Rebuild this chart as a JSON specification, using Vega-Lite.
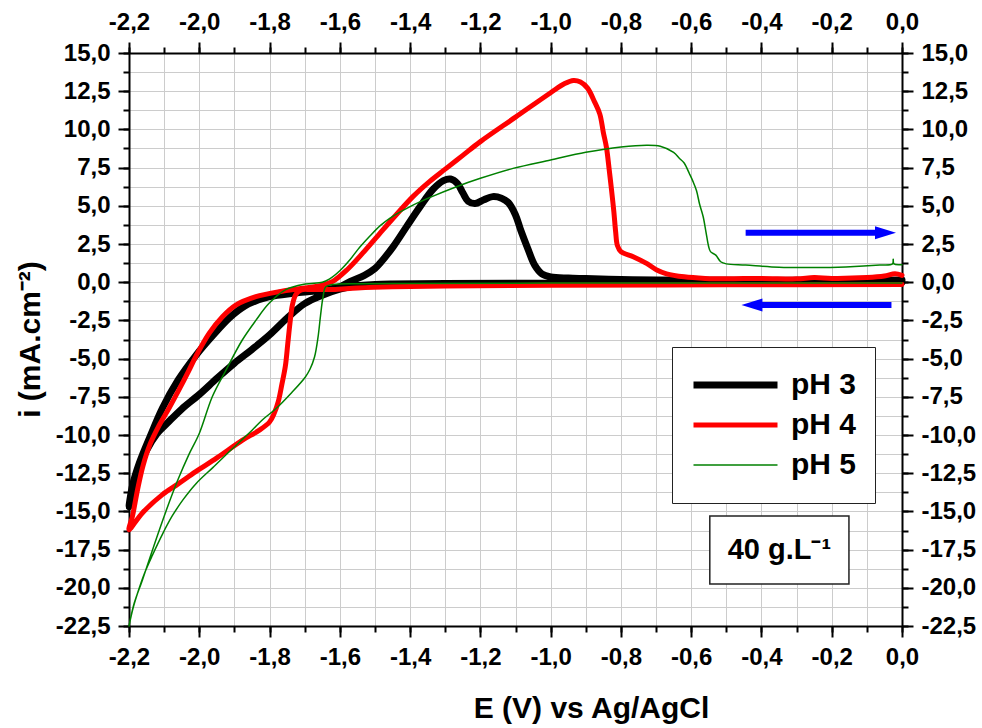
{
  "$schema": "https://vega.github.io/schema/vega-lite/v6.json",
  "width": 773,
  "height": 573,
  "autosize": {"type": "none"},
  "padding": {"left": 129, "top": 53, "right": 80, "bottom": 102},
  "background": "white",
  "config": {
    "view": {"stroke": null},
    "font": "Liberation Sans",
    "axis": {
      "labelFont": "Liberation Sans", "labelFontWeight": "bold", "labelFontSize": 24, "labelColor": "black",
      "labelPadding": 8, "labelFlush": false, "labelOverlap": false,
      "domainColor": "black", "domainWidth": 2, "tickColor": "black", "tickWidth": 2,
      "titleFont": "Liberation Sans", "titleFontWeight": "bold", "titleFontSize": 30, "titleColor": "black",
      "gridColor": "#cccccc", "gridWidth": 1, "gridOpacity": 1
    }
  },
  "resolve": {"axis": {"x": "independent", "y": "independent"}},
  "datasets": {
    "cv": [
      {"s":"pH 3","k":0,"E":0.0,"i":0.0},{"s":"pH 3","k":1,"E":-0.5,"i":-0.03},{"s":"pH 3","k":2,"E":-1.0,"i":-0.05},{"s":"pH 3","k":3,"E":-1.3,"i":-0.08},{"s":"pH 3","k":4,"E":-1.45,"i":-0.12},{"s":"pH 3","k":5,"E":-1.5,"i":-0.15},{"s":"pH 3","k":6,"E":-1.55,"i":-0.22},{"s":"pH 3","k":7,"E":-1.6,"i":-0.45},{"s":"pH 3","k":8,"E":-1.65,"i":-0.85},{"s":"pH 3","k":9,"E":-1.7,"i":-1.4},{"s":"pH 3","k":10,"E":-1.75,"i":-2.35},{"s":"pH 3","k":11,"E":-1.8,"i":-3.45},{"s":"pH 3","k":12,"E":-1.85,"i":-4.4},{"s":"pH 3","k":13,"E":-1.9,"i":-5.3},{"s":"pH 3","k":14,"E":-1.95,"i":-6.3},{"s":"pH 3","k":15,"E":-2.0,"i":-7.35},{"s":"pH 3","k":16,"E":-2.05,"i":-8.3},{"s":"pH 3","k":17,"E":-2.09,"i":-9.2},{"s":"pH 3","k":18,"E":-2.12,"i":-9.9},{"s":"pH 3","k":19,"E":-2.15,"i":-11.0},{"s":"pH 3","k":20,"E":-2.175,"i":-12.4},{"s":"pH 3","k":21,"E":-2.19,"i":-13.6},{"s":"pH 3","k":22,"E":-2.2,"i":-14.7},{"s":"pH 3","k":23,"E":-2.19,"i":-13.3},{"s":"pH 3","k":24,"E":-2.17,"i":-11.8},{"s":"pH 3","k":25,"E":-2.14,"i":-10.1},{"s":"pH 3","k":26,"E":-2.105,"i":-8.25},{"s":"pH 3","k":27,"E":-2.06,"i":-6.4},{"s":"pH 3","k":28,"E":-2.01,"i":-4.8},{"s":"pH 3","k":29,"E":-1.96,"i":-3.45},{"s":"pH 3","k":30,"E":-1.915,"i":-2.35},{"s":"pH 3","k":31,"E":-1.87,"i":-1.55},{"s":"pH 3","k":32,"E":-1.8,"i":-0.95},{"s":"pH 3","k":33,"E":-1.73,"i":-0.72},{"s":"pH 3","k":34,"E":-1.66,"i":-0.55},{"s":"pH 3","k":35,"E":-1.6,"i":-0.3},{"s":"pH 3","k":36,"E":-1.57,"i":0.05},{"s":"pH 3","k":37,"E":-1.53,"i":0.45},{"s":"pH 3","k":38,"E":-1.5,"i":0.9},{"s":"pH 3","k":39,"E":-1.486,"i":1.23},{"s":"pH 3","k":40,"E":-1.448,"i":2.33},{"s":"pH 3","k":41,"E":-1.41,"i":3.64},{"s":"pH 3","k":42,"E":-1.372,"i":4.93},{"s":"pH 3","k":43,"E":-1.334,"i":6.1},{"s":"pH 3","k":44,"E":-1.305,"i":6.65},{"s":"pH 3","k":45,"E":-1.285,"i":6.75},{"s":"pH 3","k":46,"E":-1.265,"i":6.45},{"s":"pH 3","k":47,"E":-1.25,"i":5.85},{"s":"pH 3","k":48,"E":-1.235,"i":5.3},{"s":"pH 3","k":49,"E":-1.215,"i":5.15},{"s":"pH 3","k":50,"E":-1.19,"i":5.4},{"s":"pH 3","k":51,"E":-1.165,"i":5.6},{"s":"pH 3","k":52,"E":-1.14,"i":5.5},{"s":"pH 3","k":53,"E":-1.12,"i":5.2},{"s":"pH 3","k":54,"E":-1.1,"i":4.4},{"s":"pH 3","k":55,"E":-1.085,"i":3.4},{"s":"pH 3","k":56,"E":-1.065,"i":2.2},{"s":"pH 3","k":57,"E":-1.045,"i":1.1},{"s":"pH 3","k":58,"E":-1.025,"i":0.55},{"s":"pH 3","k":59,"E":-1.0,"i":0.35},{"s":"pH 3","k":60,"E":-0.95,"i":0.27},{"s":"pH 3","k":61,"E":-0.9,"i":0.24},{"s":"pH 3","k":62,"E":-0.8,"i":0.18},{"s":"pH 3","k":63,"E":-0.7,"i":0.15},{"s":"pH 3","k":64,"E":-0.5,"i":0.12},{"s":"pH 3","k":65,"E":-0.3,"i":0.12},{"s":"pH 3","k":66,"E":-0.1,"i":0.12},{"s":"pH 3","k":67,"E":0.0,"i":0.15},
      {"s":"pH 4","k":0,"E":0.0,"i":-0.15},{"s":"pH 4","k":1,"E":-0.5,"i":-0.17},{"s":"pH 4","k":2,"E":-1.0,"i":-0.2},{"s":"pH 4","k":3,"E":-1.3,"i":-0.25},{"s":"pH 4","k":4,"E":-1.45,"i":-0.3},{"s":"pH 4","k":5,"E":-1.55,"i":-0.38},{"s":"pH 4","k":6,"E":-1.62,"i":-0.48},{"s":"pH 4","k":7,"E":-1.68,"i":-0.48},{"s":"pH 4","k":8,"E":-1.71,"i":-0.5},{"s":"pH 4","k":9,"E":-1.725,"i":-0.8},{"s":"pH 4","k":10,"E":-1.735,"i":-1.5},{"s":"pH 4","k":11,"E":-1.742,"i":-2.7},{"s":"pH 4","k":12,"E":-1.748,"i":-4.0},{"s":"pH 4","k":13,"E":-1.755,"i":-5.5},{"s":"pH 4","k":14,"E":-1.765,"i":-6.7},{"s":"pH 4","k":15,"E":-1.775,"i":-7.8},{"s":"pH 4","k":16,"E":-1.787,"i":-8.6},{"s":"pH 4","k":17,"E":-1.8,"i":-9.15},{"s":"pH 4","k":18,"E":-1.83,"i":-9.7},{"s":"pH 4","k":19,"E":-1.878,"i":-10.35},{"s":"pH 4","k":20,"E":-1.95,"i":-11.5},{"s":"pH 4","k":21,"E":-2.01,"i":-12.4},{"s":"pH 4","k":22,"E":-2.06,"i":-13.2},{"s":"pH 4","k":23,"E":-2.105,"i":-13.9},{"s":"pH 4","k":24,"E":-2.162,"i":-15.1},{"s":"pH 4","k":25,"E":-2.2,"i":-16.2},{"s":"pH 4","k":26,"E":-2.19,"i":-15.3},{"s":"pH 4","k":27,"E":-2.175,"i":-13.5},{"s":"pH 4","k":28,"E":-2.16,"i":-12.0},{"s":"pH 4","k":29,"E":-2.14,"i":-10.6},{"s":"pH 4","k":30,"E":-2.115,"i":-9.4},{"s":"pH 4","k":31,"E":-2.085,"i":-8.2},{"s":"pH 4","k":32,"E":-2.058,"i":-7.05},{"s":"pH 4","k":33,"E":-2.03,"i":-5.8},{"s":"pH 4","k":34,"E":-2.01,"i":-4.87},{"s":"pH 4","k":35,"E":-1.972,"i":-3.35},{"s":"pH 4","k":36,"E":-1.934,"i":-2.26},{"s":"pH 4","k":37,"E":-1.896,"i":-1.5},{"s":"pH 4","k":38,"E":-1.839,"i":-0.95},{"s":"pH 4","k":39,"E":-1.773,"i":-0.62},{"s":"pH 4","k":40,"E":-1.7,"i":-0.38},{"s":"pH 4","k":41,"E":-1.65,"i":-0.2},{"s":"pH 4","k":42,"E":-1.62,"i":0.05},{"s":"pH 4","k":43,"E":-1.58,"i":0.8},{"s":"pH 4","k":44,"E":-1.535,"i":1.9},{"s":"pH 4","k":45,"E":-1.486,"i":3.2},{"s":"pH 4","k":46,"E":-1.44,"i":4.4},{"s":"pH 4","k":47,"E":-1.392,"i":5.6},{"s":"pH 4","k":48,"E":-1.344,"i":6.6},{"s":"pH 4","k":49,"E":-1.3,"i":7.4},{"s":"pH 4","k":50,"E":-1.25,"i":8.3},{"s":"pH 4","k":51,"E":-1.2,"i":9.2},{"s":"pH 4","k":52,"E":-1.1,"i":10.8},{"s":"pH 4","k":53,"E":-1.0,"i":12.4},{"s":"pH 4","k":54,"E":-0.96,"i":13.0},{"s":"pH 4","k":55,"E":-0.935,"i":13.2},{"s":"pH 4","k":56,"E":-0.915,"i":13.1},{"s":"pH 4","k":57,"E":-0.895,"i":12.7},{"s":"pH 4","k":58,"E":-0.875,"i":11.8},{"s":"pH 4","k":59,"E":-0.86,"i":11.0},{"s":"pH 4","k":60,"E":-0.85,"i":9.8},{"s":"pH 4","k":61,"E":-0.841,"i":8.8},{"s":"pH 4","k":62,"E":-0.833,"i":7.3},{"s":"pH 4","k":63,"E":-0.827,"i":6.1},{"s":"pH 4","k":64,"E":-0.82,"i":4.6},{"s":"pH 4","k":65,"E":-0.815,"i":3.3},{"s":"pH 4","k":66,"E":-0.81,"i":2.4},{"s":"pH 4","k":67,"E":-0.8,"i":2.0},{"s":"pH 4","k":68,"E":-0.765,"i":1.67},{"s":"pH 4","k":69,"E":-0.727,"i":1.23},{"s":"pH 4","k":70,"E":-0.698,"i":0.8},{"s":"pH 4","k":71,"E":-0.67,"i":0.55},{"s":"pH 4","k":72,"E":-0.62,"i":0.35},{"s":"pH 4","k":73,"E":-0.56,"i":0.25},{"s":"pH 4","k":74,"E":-0.5,"i":0.22},{"s":"pH 4","k":75,"E":-0.4,"i":0.25},{"s":"pH 4","k":76,"E":-0.3,"i":0.22},{"s":"pH 4","k":77,"E":-0.25,"i":0.3},{"s":"pH 4","k":78,"E":-0.2,"i":0.25},{"s":"pH 4","k":79,"E":-0.1,"i":0.3},{"s":"pH 4","k":80,"E":-0.05,"i":0.4},{"s":"pH 4","k":81,"E":-0.02,"i":0.55},{"s":"pH 4","k":82,"E":0.0,"i":0.45},
      {"s":"pH 5","k":0,"E":0.0,"i":-0.05},{"s":"pH 5","k":1,"E":-0.5,"i":-0.05},{"s":"pH 5","k":2,"E":-1.0,"i":-0.06},{"s":"pH 5","k":3,"E":-1.4,"i":-0.08},{"s":"pH 5","k":4,"E":-1.55,"i":-0.1},{"s":"pH 5","k":5,"E":-1.62,"i":-0.15},{"s":"pH 5","k":6,"E":-1.64,"i":-0.3},{"s":"pH 5","k":7,"E":-1.648,"i":-1.0},{"s":"pH 5","k":8,"E":-1.655,"i":-2.2},{"s":"pH 5","k":9,"E":-1.662,"i":-3.6},{"s":"pH 5","k":10,"E":-1.672,"i":-4.9},{"s":"pH 5","k":11,"E":-1.685,"i":-5.7},{"s":"pH 5","k":12,"E":-1.698,"i":-6.2},{"s":"pH 5","k":13,"E":-1.736,"i":-7.2},{"s":"pH 5","k":14,"E":-1.783,"i":-8.3},{"s":"pH 5","k":15,"E":-1.82,"i":-9.0},{"s":"pH 5","k":16,"E":-1.849,"i":-9.67},{"s":"pH 5","k":17,"E":-1.878,"i":-10.3},{"s":"pH 5","k":18,"E":-1.915,"i":-11.1},{"s":"pH 5","k":19,"E":-1.96,"i":-12.1},{"s":"pH 5","k":20,"E":-2.01,"i":-13.2},{"s":"pH 5","k":21,"E":-2.045,"i":-14.2},{"s":"pH 5","k":22,"E":-2.077,"i":-15.3},{"s":"pH 5","k":23,"E":-2.105,"i":-16.5},{"s":"pH 5","k":24,"E":-2.134,"i":-17.9},{"s":"pH 5","k":25,"E":-2.155,"i":-19.0},{"s":"pH 5","k":26,"E":-2.172,"i":-20.1},{"s":"pH 5","k":27,"E":-2.188,"i":-21.3},{"s":"pH 5","k":28,"E":-2.2,"i":-22.5},{"s":"pH 5","k":29,"E":-2.185,"i":-21.0},{"s":"pH 5","k":30,"E":-2.162,"i":-19.5},{"s":"pH 5","k":31,"E":-2.124,"i":-16.9},{"s":"pH 5","k":32,"E":-2.095,"i":-15.0},{"s":"pH 5","k":33,"E":-2.062,"i":-13.0},{"s":"pH 5","k":34,"E":-2.03,"i":-11.3},{"s":"pH 5","k":35,"E":-2.0,"i":-9.9},{"s":"pH 5","k":36,"E":-1.963,"i":-7.5},{"s":"pH 5","k":37,"E":-1.925,"i":-5.8},{"s":"pH 5","k":38,"E":-1.878,"i":-3.8},{"s":"pH 5","k":39,"E":-1.839,"i":-2.5},{"s":"pH 5","k":40,"E":-1.802,"i":-1.4},{"s":"pH 5","k":41,"E":-1.755,"i":-0.5},{"s":"pH 5","k":42,"E":-1.698,"i":-0.12},{"s":"pH 5","k":43,"E":-1.65,"i":0.0},{"s":"pH 5","k":44,"E":-1.63,"i":0.2},{"s":"pH 5","k":45,"E":-1.6,"i":0.75},{"s":"pH 5","k":46,"E":-1.57,"i":1.5},{"s":"pH 5","k":47,"E":-1.55,"i":2.1},{"s":"pH 5","k":48,"E":-1.515,"i":3.0},{"s":"pH 5","k":49,"E":-1.485,"i":3.7},{"s":"pH 5","k":50,"E":-1.457,"i":4.2},{"s":"pH 5","k":51,"E":-1.4,"i":4.95},{"s":"pH 5","k":52,"E":-1.343,"i":5.55},{"s":"pH 5","k":53,"E":-1.268,"i":6.25},{"s":"pH 5","k":54,"E":-1.2,"i":6.8},{"s":"pH 5","k":55,"E":-1.107,"i":7.45},{"s":"pH 5","k":56,"E":-1.0,"i":8.0},{"s":"pH 5","k":57,"E":-0.9,"i":8.5},{"s":"pH 5","k":58,"E":-0.8,"i":8.85},{"s":"pH 5","k":59,"E":-0.726,"i":8.97},{"s":"pH 5","k":60,"E":-0.688,"i":8.9},{"s":"pH 5","k":61,"E":-0.65,"i":8.5},{"s":"pH 5","k":62,"E":-0.633,"i":8.1},{"s":"pH 5","k":63,"E":-0.62,"i":7.8},{"s":"pH 5","k":64,"E":-0.605,"i":7.1},{"s":"pH 5","k":65,"E":-0.595,"i":6.6},{"s":"pH 5","k":66,"E":-0.585,"i":6.0},{"s":"pH 5","k":67,"E":-0.576,"i":5.1},{"s":"pH 5","k":68,"E":-0.566,"i":4.3},{"s":"pH 5","k":69,"E":-0.558,"i":3.3},{"s":"pH 5","k":70,"E":-0.55,"i":2.3},{"s":"pH 5","k":71,"E":-0.545,"i":2.0},{"s":"pH 5","k":72,"E":-0.53,"i":1.77},{"s":"pH 5","k":73,"E":-0.516,"i":1.34},{"s":"pH 5","k":74,"E":-0.5,"i":1.2},{"s":"pH 5","k":75,"E":-0.445,"i":1.12},{"s":"pH 5","k":76,"E":-0.35,"i":0.98},{"s":"pH 5","k":77,"E":-0.255,"i":0.96},{"s":"pH 5","k":78,"E":-0.16,"i":1.0},{"s":"pH 5","k":79,"E":-0.063,"i":1.12},{"s":"pH 5","k":80,"E":-0.027,"i":1.2},{"s":"pH 5","k":81,"E":-0.025,"i":1.5},{"s":"pH 5","k":82,"E":-0.023,"i":1.2},{"s":"pH 5","k":83,"E":0.0,"i":1.15}
    ],
    "arrows": [
      {"x1": -0.445, "x2": -0.06, "y": 3.24},
      {"x1": -0.42, "x2": -0.03, "y": -1.49}
    ],
    "heads": [
      {"x": -0.047, "y": 3.24, "d": "right"},
      {"x": -0.427, "y": -1.49, "d": "left"}
    ],
    "note": [
      {"x1": -0.547, "x2": -0.151, "y1": -15.3, "y2": -19.75, "xc": -0.349, "yc": -17.55, "t": "40 g.L⁻¹"}
    ]
  },
  "layer": [
    {
      "data": {"name": "cv"},
      "mark": {"type": "line", "strokeJoin": "round", "strokeCap": "round", "interpolate": "catmull-rom"},
      "encoding": {
        "x": {
          "field": "E", "type": "quantitative",
          "scale": {"domain": [-2.2, 0], "nice": false, "zero": false},
          "axis": {
            "orient": "bottom",
            "values": [-2.2, -2, -1.8, -1.6, -1.4, -1.2, -1, -0.8, -0.6, -0.4, -0.2, 0],
            "format": ".1f",
            "labelExpr": "replace(replace(datum.label, '.', ','), '−', '-')",
            "tickSize": 11, "grid": false,
            "title": "E (V) vs Ag/AgCl",
            "titleX": 462, "titleY": 82, "titleBaseline": "middle", "titleAlign": "center"
          }
        },
        "y": {
          "field": "i", "type": "quantitative",
          "scale": {"domain": [-22.5, 15], "nice": false, "zero": false},
          "axis": {
            "orient": "left",
            "values": [-22.5, -20, -17.5, -15, -12.5, -10, -7.5, -5, -2.5, 0, 2.5, 5, 7.5, 10, 12.5, 15],
            "format": ".1f",
            "labelExpr": "replace(replace(datum.label, '.', ','), '−', '-')",
            "tickSize": 11, "grid": false,
            "title": "i (mA.cm⁻²)",
            "titleX": -99, "titleY": 286, "titleBaseline": "middle", "titleAlign": "center", "titleAngle": -90
          }
        },
        "order": {"field": "k", "type": "quantitative"},
        "color": {
          "field": "s", "type": "nominal",
          "scale": {"domain": ["pH 3", "pH 4", "pH 5"], "range": ["#000000", "#ff0000", "#008000"]},
          "legend": {
            "orient": "none", "legendX": 543, "legendY": 294, "title": null,
            "symbolType": "stroke", "symbolSize": 7056, "clipHeight": 40, "rowPadding": 0,
            "padding": 18, "labelFont": "Liberation Sans", "labelFontWeight": "bold", "labelFontSize": 30,
            "labelColor": "black", "labelOffset": 10, "strokeColor": "#222222", "fillColor": "white"
          }
        },
        "strokeWidth": {
          "field": "s", "type": "nominal",
          "scale": {"type": "ordinal", "domain": ["pH 3", "pH 4", "pH 5"], "range": [7, 5, 1.5]},
          "legend": {
            "orient": "none", "legendX": 543, "legendY": 294, "title": null,
            "symbolType": "stroke", "symbolSize": 7056, "clipHeight": 40, "rowPadding": 0,
            "padding": 18, "labelFont": "Liberation Sans", "labelFontWeight": "bold", "labelFontSize": 30,
            "labelColor": "black", "labelOffset": 10, "strokeColor": "#222222", "fillColor": "white"
          }
        }
      }
    },
    {
      "data": {"name": "arrows"},
      "mark": {"type": "rule", "color": "#0000ff", "strokeWidth": 6},
      "encoding": {
        "x": {
          "field": "x1", "type": "quantitative",
          "scale": {"domain": [-2.2, 0], "nice": false, "zero": false},
          "axis": {
            "orient": "top",
            "values": [-2.2, -2, -1.8, -1.6, -1.4, -1.2, -1, -0.8, -0.6, -0.4, -0.2, 0],
            "format": ".1f",
            "labelExpr": "replace(replace(datum.label, '.', ','), '−', '-')",
            "tickSize": 11, "grid": false, "title": null
          }
        },
        "x2": {"field": "x2"},
        "y": {
          "field": "y", "type": "quantitative",
          "scale": {"domain": [-22.5, 15], "nice": false, "zero": false},
          "axis": {
            "orient": "right",
            "values": [-22.5, -20, -17.5, -15, -12.5, -10, -7.5, -5, -2.5, 0, 2.5, 5, 7.5, 10, 12.5, 15],
            "format": ".1f",
            "labelExpr": "replace(replace(datum.label, '.', ','), '−', '-')",
            "tickSize": 11, "grid": false, "title": null
          }
        }
      }
    },
    {
      "data": {"name": "heads"},
      "mark": {"type": "point", "filled": true, "color": "#0000ff", "opacity": 1, "size": 441},
      "encoding": {
        "x": {
          "field": "x", "type": "quantitative",
          "scale": {"domain": [-2.2, 0], "nice": false, "zero": false},
          "axis": {
            "orient": "bottom",
            "values": [-2.2, -2.1, -2, -1.9, -1.8, -1.7, -1.6, -1.5, -1.4, -1.3, -1.2, -1.1, -1, -0.9, -0.8, -0.7, -0.6, -0.5, -0.4, -0.3, -0.2, -0.1, 0],
            "labels": false, "domain": false, "tickSize": 6, "grid": true, "title": null
          }
        },
        "y": {
          "field": "y", "type": "quantitative",
          "scale": {"domain": [-22.5, 15], "nice": false, "zero": false},
          "axis": {
            "orient": "left",
            "values": [-22.5, -21.25, -20, -18.75, -17.5, -16.25, -15, -13.75, -12.5, -11.25, -10, -8.75, -7.5, -6.25, -5, -3.75, -2.5, -1.25, 0, 1.25, 2.5, 3.75, 5, 6.25, 7.5, 8.75, 10, 11.25, 12.5, 13.75, 15],
            "labels": false, "domain": false, "tickSize": 6, "grid": true, "title": null
          }
        },
        "shape": {
          "field": "d", "type": "nominal",
          "scale": {"domain": ["right", "left"], "range": ["M-1,-0.62L1,0L-1,0.62Z", "M1,-0.62L-1,0L1,0.62Z"]},
          "legend": null
        }
      }
    },
    {
      "data": {"name": "note"},
      "mark": {"type": "rect", "fill": "white", "stroke": "#222222", "strokeWidth": 1.5},
      "encoding": {
        "x": {
          "field": "x1", "type": "quantitative",
          "scale": {"domain": [-2.2, 0], "nice": false, "zero": false},
          "axis": {
            "orient": "top",
            "values": [-2.2, -2.1, -2, -1.9, -1.8, -1.7, -1.6, -1.5, -1.4, -1.3, -1.2, -1.1, -1, -0.9, -0.8, -0.7, -0.6, -0.5, -0.4, -0.3, -0.2, -0.1, 0],
            "labels": false, "domain": false, "tickSize": 6, "grid": false, "title": null
          }
        },
        "x2": {"field": "x2"},
        "y": {
          "field": "y1", "type": "quantitative",
          "scale": {"domain": [-22.5, 15], "nice": false, "zero": false},
          "axis": {
            "orient": "right",
            "values": [-22.5, -21.25, -20, -18.75, -17.5, -16.25, -15, -13.75, -12.5, -11.25, -10, -8.75, -7.5, -6.25, -5, -3.75, -2.5, -1.25, 0, 1.25, 2.5, 3.75, 5, 6.25, 7.5, 8.75, 10, 11.25, 12.5, 13.75, 15],
            "labels": false, "domain": false, "tickSize": 6, "grid": false, "title": null
          }
        },
        "y2": {"field": "y2"}
      }
    },
    {
      "data": {"name": "note"},
      "mark": {"type": "text", "font": "Liberation Sans", "fontWeight": "bold", "fontSize": 29, "color": "black", "align": "center", "baseline": "middle"},
      "encoding": {
        "x": {"field": "xc", "type": "quantitative", "scale": {"domain": [-2.2, 0], "nice": false, "zero": false}, "axis": null},
        "y": {"field": "yc", "type": "quantitative", "scale": {"domain": [-22.5, 15], "nice": false, "zero": false}, "axis": null},
        "text": {"field": "t"}
      }
    }
  ]
}
